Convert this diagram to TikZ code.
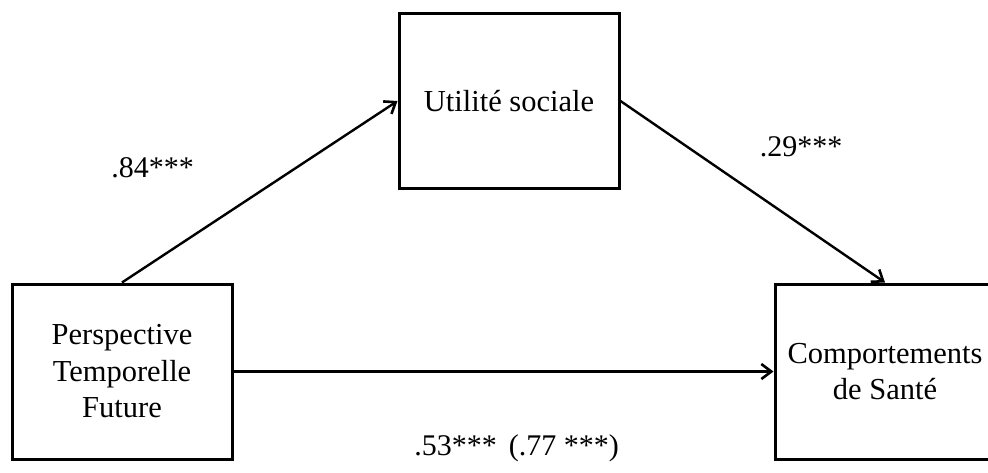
\documentclass[tikz,border=0pt]{standalone}
\usepackage{fontspec}
\setmainfont{Liberation Serif}
\usetikzlibrary{positioning,arrows.meta}

\begin{document}
\begin{tikzpicture}[x=1pt,y=-1pt,line width=2.4pt,on grid,-{Straight Barb[length=10pt,width=15pt,line width=2.6pt]}]

  \tikzstyle{boxnode}=[draw=black,line width=3pt,shape=rectangle,minimum width=220pt,minimum height=175pt,align=center,font=\fontsize{30.5}{36.5}\selectfont]
  \tikzstyle{coefnode}=[anchor=base,font=\fontsize{30}{36}\selectfont]

  \useasboundingbox (0,0) rectangle (988,472);
  \clip (0,0) rectangle (988,472);

  \node[boxnode] (pft) at (122,371.5)                  {Perspective\\Temporelle\\Future};
  \node[boxnode] (us)  [above right=270.5pt and 387pt of pft] {Utilité sociale};
  \node[boxnode] (cs)  [right=763pt of pft]            {Comportements\\de Santé};

  \draw (pft.north) -- (us.west);
  \draw (us.east)   -- (cs.north);
  \draw (pft)       -- (cs);

  \node[coefnode] (a)  at (152.5,177) {.84***};
  \node[coefnode] (b)  at (801,156)   {.29***};
  \node[coefnode] (cp) at (516.5,455) {.53***\hspace{12pt}(.77 ***)};

\end{tikzpicture}
\end{document}
